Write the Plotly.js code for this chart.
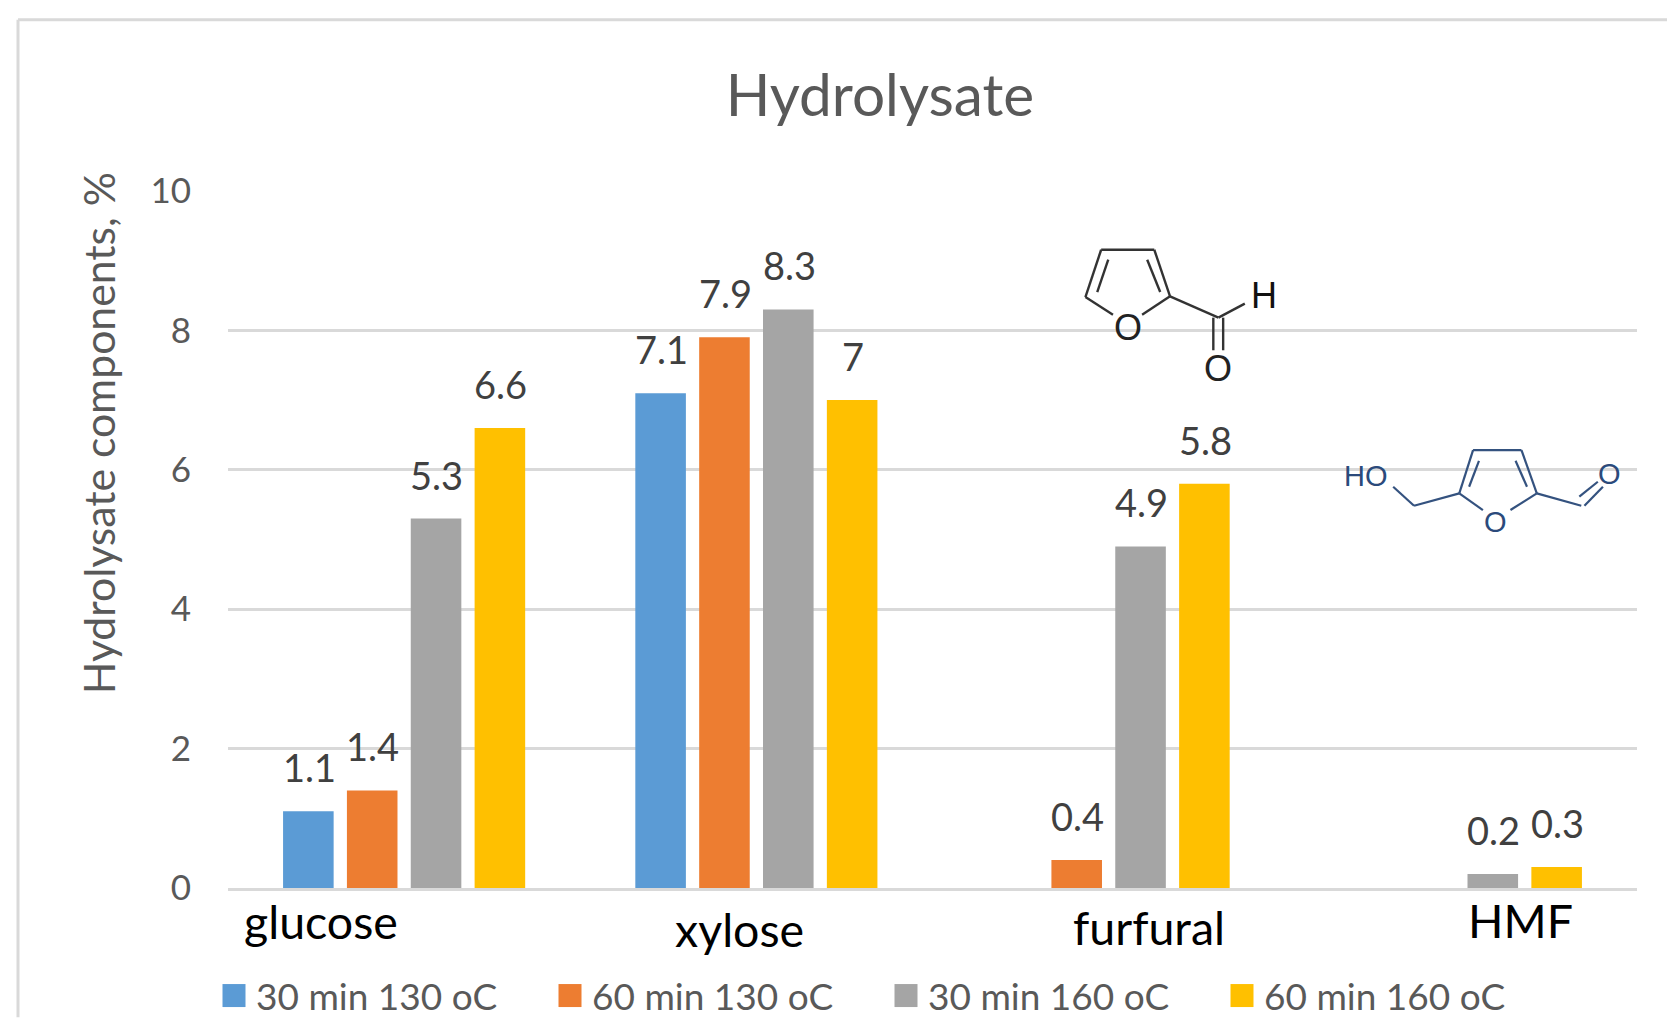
<!DOCTYPE html>
<html><head><meta charset="utf-8">
<script src="https://cdn.plot.ly/plotly-3.0.1.min.js"></script>
<style>html,body{margin:0;padding:0;background:#fff;overflow:hidden}</style></head>
<body><div id="chart" style="width:1667px;height:1018px"></div>
<script>
const categories = ['glucose','xylose','furfural','HMF'];
const seriesNames = ['30 min 130 oC','60 min 130 oC','30 min 160 oC','60 min 160 oC'];
const colors = ['#5B9BD5','#ED7D31','#A5A5A5','#FFC000'];
const s30_130 = [1.1,7.1,null,null];
const s60_130 = [1.4,7.9,0.4,null];
const s30_160 = [5.3,8.3,4.9,0.2];
const s60_160 = [6.6,7,5.8,0.3];
const allSeries = [s30_130,s60_130,s30_160,s60_160];
const yTicks = [0,2,4,6,8,10];
const chartTitle = 'Hydrolysate';
const yTitle = 'Hydrolysate components, %';
const FONT = 'Lato, "Open Sans", sans-serif';

const L=228, R=1637, T=190.5, B=888.5;
const px = x => (x-L)/(R-L);
const py = y => (B-y)/(B-T);
const zx = x => 1050 + x/2.541;
const zy = y => 220 + y/3;

function seg(pts, color, width){
  return pts.map(p => ({type:'line',xref:'paper',yref:'paper',layer:'above',
    x0:px(zx(p[0])),y0:py(zy(p[1])),x1:px(zx(p[2])),y1:py(zy(p[3])),
    line:{color:color,width:width}}));
}
const furfuralBonds = [[130,88,265,88],[265,88,305,228],[305,228,234,283],[160,283,90,230],[90,230,130,88],
  [148,118,120,215],[247,118,280,215],[305,228,428,292],[428,292,495,250],[415,292,415,390],[440,292,440,390]];
const hmfBonds = [[1075,690,1198,690],[1198,690,1237,820],[1237,820,1170,870],[1100,870,1040,820],[1040,820,1075,690],
  [1090,722,1065,800],[1183,722,1212,800],[1040,820,925,857],[925,857,872,800],[1237,820,1350,857],
  [1345,830,1392,785],[1358,857,1405,800]];
const atom = (t,x,y,c,s) => ({text:t,xref:'paper',yref:'paper',x:px(zx(x)),y:py(zy(y)),xanchor:'center',yanchor:'middle',
  showarrow:false,font:{family:'Liberation Sans, Arial, sans-serif',size:s,color:c}});
const catLabel = (t,x,y) => ({text:t,xref:'paper',yref:'paper',x:px(x),y:py(y),xanchor:'center',yanchor:'middle',
  showarrow:false,font:{family:FONT,size:46.5,color:'#000000'}});
const mask = (x0,x1,yc) => ({type:'rect',xref:'paper',yref:'paper',layer:'between',x0:px(x0),x1:px(x1),y0:py(yc-4),y1:py(yc+4),
  fillcolor:'#ffffff',line:{width:0}});
const frame = (x0,y0,x1,y1) => ({type:'line',xref:'paper',yref:'paper',layer:'above',x0:px(x0),y0:py(y0),x1:px(x1),y1:py(y1),
  line:{color:'#D9D9D9',width:3}});

const traces = allSeries.map((v,i)=>({type:'bar',name:seriesNames[i],x:categories,y:v,
  marker:{color:colors[i]},hoverinfo:'x+y+name'}));

const SLOT = 0.18125;
const dataLabels = [];
allSeries.forEach((v,j)=>v.forEach((d,i)=>{
  if(d!==null) dataLabels.push({text:String(d),xref:'x',yref:'y',x:i+(j-1.5)*SLOT+0.002,y:d,xanchor:'center',yanchor:'middle',yshift:44,
    showarrow:false,font:{family:FONT,size:38,color:'#404040'}});
}));

const layout = {
  width:1667,height:1018,paper_bgcolor:'#fff',plot_bgcolor:'#fff',
  margin:{l:L,r:1667-R,t:T,b:1018-B,pad:0},
  title:{text:chartTitle,font:{family:FONT,size:58.5,color:'#595959'},x:880/1667,xanchor:'center',y:1-96/1018,yanchor:'middle'},
  barmode:'group',bargap:0.275,bargroupgap:0.208,showlegend:true,
  xaxis:{type:'category',categories:categories,range:[-0.5,3.5],showticklabels:false,ticks:'',showgrid:false,showline:true,linecolor:'#D9D9D9',linewidth:3,zeroline:false,fixedrange:true},
  yaxis:{range:[0,10],tickvals:yTicks,ticktext:yTicks.map(String),tickfont:{family:FONT,size:35,color:'#595959'},
    gridcolor:'#D9D9D9',gridwidth:3,zeroline:false,showline:false,ticks:'outside',ticklen:29,tickcolor:'rgba(0,0,0,0)',automargin:false,fixedrange:true},
  legend:{orientation:'h',xref:'container',yref:'container',x:216/1667,y:1-965/1018,xanchor:'left',yanchor:'top',entrywidth:291,entrywidthmode:'pixels',
    font:{family:FONT,size:37,color:'#595959'},itemclick:false,itemdoubleclick:false,traceorder:'normal',bgcolor:'rgba(0,0,0,0)'},
  shapes:[frame(18,1018,18,19),frame(18,19,1667,19),
    mask(1067,1294,B-(B-T)*0.8),mask(1332,1634,B-(B-T)*0.6)]
    .concat(seg(furfuralBonds,'#333333',2.4)).concat(seg(hmfBonds,'#34527F',2.2)),
  annotations:[
    {text:yTitle,xref:'paper',yref:'paper',x:px(98),y:py(433),xanchor:'center',yanchor:'middle',textangle:-90,showarrow:false,
     font:{family:FONT,size:42.7,color:'#595959'}},
    catLabel(categories[0],321,922),catLabel(categories[1],739,930),catLabel(categories[2],1149,928),catLabel(categories[3],1520,921),
    atom('O',198,322,'#222222',36),atom('H',545,225,'#111111',36),atom('O',428,445,'#222222',36),
    atom('HO',803,768,'#2B4A7B',29),atom('O',1132,905,'#2B4A7B',29),atom('O',1422,762,'#2B4A7B',29)].concat(dataLabels)
};
Plotly.newPlot('chart',traces,layout,{displayModeBar:false,responsive:false}).then(gd=>{
  gd.querySelectorAll('.legend .legendpoints path').forEach(p=>{p.setAttribute('d','M9.5,11.5H-13.5V-11.5H9.5Z');});
});
</script></body></html>
